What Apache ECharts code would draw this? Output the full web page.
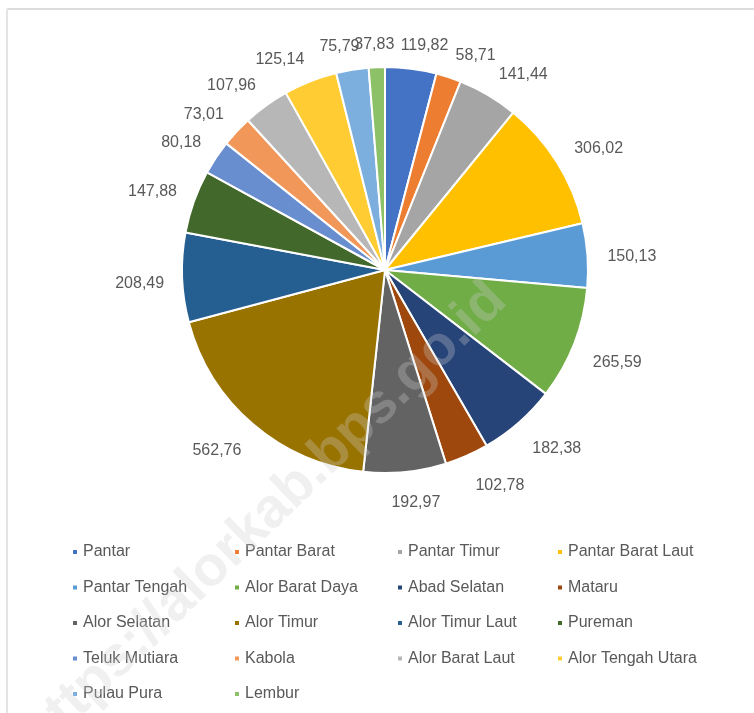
<!DOCTYPE html>
<html><head><meta charset="utf-8">
<script src="https://cdn.jsdelivr.net/npm/echarts/dist/echarts.min.js"></script>
<style>html,body{margin:0;padding:0;background:#fff}#c{width:754px;height:713px}</style>
</head><body><div id="c"></div>
<script>
const categories = ['Pantar','Pantar Barat','Pantar Timur','Pantar Barat Laut','Pantar Tengah','Alor Barat Daya','Abad Selatan','Mataru','Alor Selatan','Alor Timur','Alor Timur Laut','Pureman','Teluk Mutiara','Kabola','Alor Barat Laut','Alor Tengah Utara','Pulau Pura','Lembur'];
const values = [119.82,58.71,141.44,306.02,150.13,265.59,182.38,102.78,192.97,562.76,208.49,147.88,80.18,73.01,107.96,125.14,75.79,37.83];
const colors = ['#4472C4','#ED7D31','#A5A5A5','#FFC000','#5B9BD5','#70AD47','#264478','#9E480E','#636363','#997300','#255E91','#43682B','#698ED0','#F1975A','#B7B7B7','#FFCD33','#7CAFDD','#8CC168'];
const watermark = 'https://alorkab.bps.go.id';

const CX = 385, CY = 270, R = 203, D = 222, LCX = 386, LCY = 274;
const total = values.reduce((a, b) => a + b, 0);
const mids = [];
let acc = 0;
values.forEach(v => { mids.push((acc + v / 2) / total * 2 * Math.PI); acc += v; });
const f = x => Math.max(-1, Math.min(1, x / 0.3));

const colLeft = [66, 228, 391, 551];
const legendCols = [0, 1, 2, 3].map(c => categories.filter((_, i) => i % 4 === c));

const chart = echarts.init(document.getElementById('c'), null, {renderer: 'canvas'});
chart.setOption({
  backgroundColor: '#ffffff',
  animation: false,
  color: colors,
  legend: legendCols.map((names, c) => ({
    orient: 'vertical', left: colLeft[c], top: 539, data: names,
    icon: 'rect', itemWidth: 6, itemHeight: 6, itemGap: 19.5, selectedMode: false,
    textStyle: {fontSize: 16, color: '#595959', fontFamily: 'Liberation Sans', lineHeight: 16}
  })),
  graphic: [
    {type: 'line', shape: {x1: 7, y1: 9, x2: 754, y2: 9}, style: {stroke: '#dcdcdc', lineWidth: 2}},
    {type: 'line', shape: {x1: 7, y1: 9, x2: 7, y2: 713}, style: {stroke: '#e4e4e4', lineWidth: 2}},
    {type: 'text', x: 498, y: 292, rotation: 44 * Math.PI / 180, z: 100,
     style: {text: watermark, font: 'bold 56px "Liberation Sans"', fill: 'rgba(205,205,205,0.3)',
             align: 'right', verticalAlign: 'middle'}}
  ],
  series: [{
    type: 'pie',
    center: [CX, CY],
    radius: R,
    startAngle: 90,
    clockwise: true,
    avoidLabelOverlap: false,
    itemStyle: {borderColor: '#ffffff', borderWidth: 2},
    label: {
      show: true, position: 'outside', fontSize: 16, color: '#595959', fontFamily: 'Liberation Sans', lineHeight: 14,
      formatter: p => values[p.dataIndex].toFixed(2).replace('.', ',')
    },
    labelLine: {show: false},
    labelLayout: function (p) {
      const t = mids[p.dataIndex];
      const s = Math.sin(t), c = Math.cos(t);
      const w = p.labelRect.width, h = p.labelRect.height;
      return {
        x: LCX + D * s + w / 2 * f(s),
        y: LCY - D * c - h / 2 * f(c),
        align: 'center', verticalAlign: 'middle'
      };
    },
    emphasis: {disabled: true},
    data: categories.map((n, i) => ({name: n, value: values[i]}))
  }]
});
</script></body></html>
